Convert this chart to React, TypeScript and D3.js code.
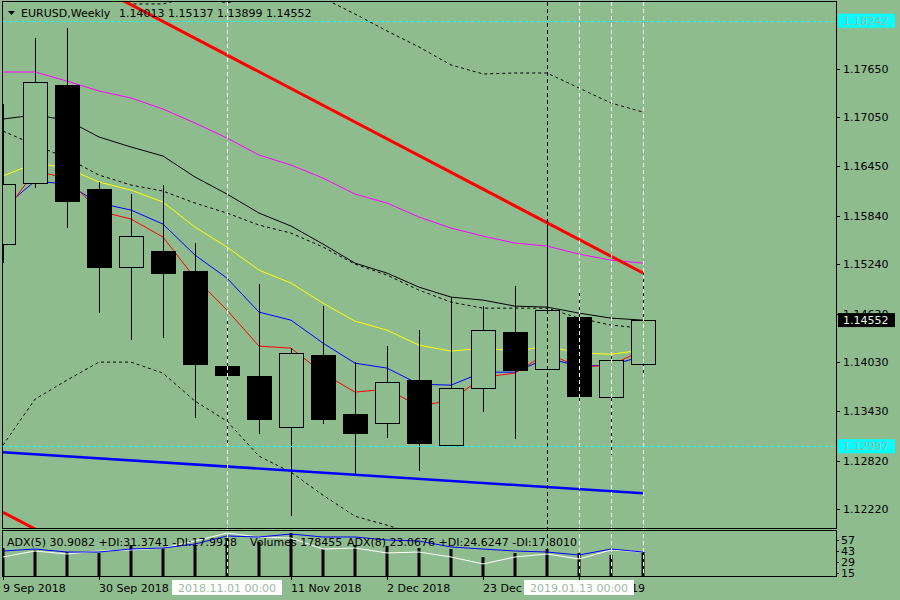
import * as d3 from "d3"

// weekly EURUSD candles, Sep 2018 .. Jan 2019
const opens = [1.15488, 1.16241, 1.17449, 1.16167, 1.15205, 1.15402, 1.15155, 1.13984, 1.13861, 1.13232, 1.1412, 1.13392, 1.13281, 1.13811, 1.1301, 1.13713, 1.14403, 1.13947, 1.14588, 1.13602, 1.14013]
const highs = [1.17215, 1.18029, 1.18152, 1.16253, 1.16105, 1.16216, 1.15501, 1.14588, 1.14996, 1.14206, 1.14724, 1.14033, 1.1423, 1.14427, 1.14835, 1.14724, 1.1497, 1.15747, 1.14884, 1.14157, 1.15137]
const lows = [1.15254, 1.16179, 1.15686, 1.14638, 1.14305, 1.1433, 1.13343, 1.1301, 1.13146, 1.12135, 1.13269, 1.12652, 1.13096, 1.1269, 1.13, 1.13417, 1.13084, 1.1394, 1.13528, 1.12887, 1.13899]
const closes = [1.16228, 1.17486, 1.16019, 1.15205, 1.15587, 1.15131, 1.14009, 1.13873, 1.13331, 1.14144, 1.13331, 1.13158, 1.13786, 1.13034, 1.13713, 1.14428, 1.13935, 1.14675, 1.13614, 1.14058, 1.14552]

// moving averages / envelopes
const maMagenta = [1.17609, 1.17609, 1.17498, 1.17375, 1.17289, 1.17153, 1.1698, 1.16796, 1.16586, 1.16463, 1.16302, 1.16105, 1.15994, 1.15822, 1.15686, 1.15587, 1.15501, 1.15464, 1.15365, 1.15291, 1.15254]
const maBlack = [1.1703, 1.17079, 1.17017, 1.16808, 1.16685, 1.16574, 1.16315, 1.16105, 1.15871, 1.15711, 1.15489, 1.15254, 1.15131, 1.14958, 1.14835, 1.14798, 1.14724, 1.14712, 1.14638, 1.14576, 1.14551]
const maBlackDot = [1.16882, 1.16709, 1.16549, 1.16339, 1.16216, 1.16142, 1.15994, 1.15871, 1.15723, 1.15624, 1.15452, 1.15242, 1.15106, 1.14921, 1.14773, 1.14699, 1.14699, 1.14699, 1.14576, 1.1449, 1.14453]
const maYellow = [1.16327, 1.16487, 1.16426, 1.16253, 1.16154, 1.16006, 1.15698, 1.15452, 1.15168, 1.15008, 1.14761, 1.14539, 1.14428, 1.14243, 1.14169, 1.14206, 1.14169, 1.14231, 1.14145, 1.14132, 1.14182]
const maBlue = [1.15932, 1.16265, 1.16228, 1.15994, 1.15908, 1.15735, 1.15353, 1.15069, 1.1465, 1.14551, 1.14268, 1.14021, 1.1396, 1.13762, 1.1375, 1.1391, 1.1391, 1.14083, 1.13984, 1.13997, 1.14108]
const maRed = [1.15846, 1.16389, 1.16302, 1.15895, 1.15797, 1.15575, 1.15069, 1.14675, 1.14231, 1.14206, 1.13898, 1.13664, 1.13701, 1.13491, 1.13565, 1.13849, 1.13898, 1.14145, 1.13972, 1.13997, 1.14182]
const bandUpper = [1.188, 1.1885, 1.188, 1.187, 1.18448, 1.18448, 1.1855, 1.1846, 1.18558, 1.18595, 1.18521, 1.18324, 1.18115, 1.17918, 1.17696, 1.17585, 1.17597, 1.17597, 1.17412, 1.17227, 1.17116]
const bandLower = [1.1301, 1.13577, 1.13812, 1.14034, 1.14034, 1.13898, 1.13553, 1.13306, 1.12875, 1.12677, 1.12394, 1.12135, 1.12024, 1.11901, 1.1178, 1.1166, 1.116, 1.116, 1.1154, 1.1148, 1.1142]

// sub window
const adxBlue = [43.0, 45.5, 41.7, 41.7, 45.5, 46.8, 51.9, 62.1, 60.8, 64.6, 60.8, 60.8, 57.0, 55.7, 48.1, 45.5, 43.0, 41.7, 37.9, 45.5, 41.7]
const adxWhite = [35.4, 43.0, 39.2, 43.0, 44.3, 46.8, 55.7, 65.9, 60.8, 59.5, 45.5, 46.8, 40.5, 41.7, 35.4, 26.5, 35.4, 39.2, 32.8, 44.3, 41.7]
const volumes = [208200, 193300, 178500, 171000, 230500, 208200, 230500, 282600, 252800, 319700, 200800, 230500, 223100, 208200, 200800, 141300, 171000, 200800, 171000, 156200, 178455]
const subTicks = [57, 43, 29, 15]

// objects (trend lines are extended to the left edge)
const trendRed = [{ bar: 7, price: 1.17819 }, { bar: 20, price: 1.15132 }]
const trendRedLow = [{ bar: 0, price: 1.12184 }, { bar: 13, price: 1.09497 }]
const trendBlue = [{ bar: 0, price: 1.12924 }, { bar: 20, price: 1.12419 }]
const hLevels = [1.18242, 1.12997]
const vLinesWhite = [7, 18, 19, 20]
const vLinesBlack = [17]

const priceTicks = [1.1765, 1.1705, 1.1645, 1.1584, 1.1524, 1.1463, 1.1403, 1.1343, 1.1282, 1.1222]
const dateLabels = [
  { bar: 0, text: "9 Sep 2018" },
  { bar: 3, text: "30 Sep 2018" },
  { bar: 9, text: "11 Nov 2018" },
  { bar: 12, text: "2 Dec 2018" },
  { bar: 15, text: "23 Dec 2018" },
  { bar: 18, text: "13 Jan 2019" },
]
const crossLabels = [
  { bar: 7, text: "2018.11.01 00:00" },
  { bar: 18, text: "2019.01.13 00:00" },
]
const lastPrice = 1.14552

const BG = "#8FBC8F"
const FONT = "DejaVu Sans"

export default function App() {
  const left = 3, right = 836
  const mainTop = 2, mainBottom = 528
  const subTop = 531, subBottom = 576

  const x = d3.scaleLinear().domain([0, 20]).range([3, 643])
  const y = d3.scaleLinear().domain([1.1222, 1.1765]).range([509.3, 68.7])
  const ys = d3.scaleLinear().domain([15, 57]).range([573, 540])
  const yv = d3.scaleLinear().domain([0, 178455]).range([subBottom, 552])

  const line = d3.line<number>().x((_, i) => x(i)).y(d => y(d))
  const subLine = d3.line<number>().x((_, i) => x(i)).y(d => ys(d))
  // straight line through two anchors, drawn from bar `from` to bar `to`
  const seg = (pts: { bar: number; price: number }[], from: number, to: number) => {
    const p = d3.scaleLinear().domain([pts[0].bar, pts[1].bar]).range([pts[0].price, pts[1].price])
    return `M${x(from)},${y(p(from))}L${x(to)},${y(p(to))}`
  }

  const maLines = [
    { data: bandUpper, color: "#000", dash: "3,3" },
    { data: bandLower, color: "#000", dash: "3,3" },
    { data: maMagenta, color: "#FF00FF", dash: null },
    { data: maBlack, color: "#000", dash: null },
    { data: maBlackDot, color: "#000", dash: "3,3" },
    { data: maYellow, color: "#FFFF00", dash: null },
    { data: maBlue, color: "#0000FF", dash: null },
    { data: maRed, color: "#FF0000", dash: null },
  ]

  return (
    <svg width={900} height={600} style={{ position: "fixed", left: 0, top: 0, display: "block" }}
      fontFamily={FONT} fontSize={11}>
      <defs>
        <clipPath id="main"><rect x={left} y={mainTop} width={right - left} height={mainBottom - mainTop} /></clipPath>
        <clipPath id="sub"><rect x={left} y={subTop} width={right - left} height={subBottom - subTop} /></clipPath>
      </defs>
      <rect width={900} height={600} fill={BG} />

      <g clipPath="url(#main)">
        {maLines.map((m, i) => (
          <path key={i} d={line(m.data) ?? ""} fill="none" stroke={m.color} strokeWidth={1}
            strokeDasharray={m.dash ?? undefined} />
        ))}

        {opens.map((o, i) => {
          const c = closes[i]
          const cx = Math.round(x(i)) + 0.5
          const top = Math.round(y(Math.max(o, c))) + 0.5
          const bot = Math.round(y(Math.min(o, c))) + 0.5
          return (
            <g key={i} shapeRendering="crispEdges">
              <line x1={cx} x2={cx} y1={y(highs[i])} y2={y(lows[i])} stroke="#000" />
              <rect x={cx - 12} y={top} width={24} height={Math.max(1, bot - top)}
                fill={c >= o ? BG : "#000"} stroke="#000" />
            </g>
          )
        })}

        {hLevels.map((p, i) => (
          <line key={i} x1={left} x2={right} y1={Math.round(y(p)) + 0.5} y2={Math.round(y(p)) + 0.5}
            stroke="#00FFFF" strokeDasharray="3,3" shapeRendering="crispEdges" />
        ))}

        <path d={seg(trendBlue, 0, 20)} stroke="#0000FF" strokeWidth={2.5} fill="none" />
        <path d={seg(trendRed, 0, 20)} stroke="#FF0000" strokeWidth={3} fill="none" />
        <path d={seg(trendRedLow, 0, 5)} stroke="#FF0000" strokeWidth={3} fill="none" />
      </g>

      <g clipPath="url(#sub)">
        {volumes.map((v, i) => (
          <line key={i} x1={x(i)} x2={x(i)} y1={yv(v)} y2={subBottom} stroke="#000" strokeWidth={3} />
        ))}
        <path d={subLine(adxWhite) ?? ""} fill="none" stroke="#FFFFFF" strokeWidth={1} />
        <path d={subLine(adxBlue) ?? ""} fill="none" stroke="#0000FF" strokeWidth={1} />
        <text x={7} y={546} fill="#000">ADX(5) 30.9082 +DI:31.3741 -DI:17.9928</text>
        <text x={250} y={546} fill="#000">Volumes 178455</text>
        <text x={347} y={546} fill="#000">ADX(8) 23.0676 +DI:24.6247 -DI:17.8010</text>
      </g>

      {/* vertical lines across both windows */}
      {vLinesWhite.map(b => (
        <line key={"w" + b} x1={Math.round(x(b)) + 0.5} x2={Math.round(x(b)) + 0.5} y1={mainTop} y2={subBottom}
          stroke="#FFFFFF" strokeDasharray="4,3" shapeRendering="crispEdges" />
      ))}
      {vLinesBlack.map(b => (
        <line key={"b" + b} x1={Math.round(x(b)) + 0.5} x2={Math.round(x(b)) + 0.5} y1={mainTop} y2={subBottom}
          stroke="#000" strokeDasharray="4,3" shapeRendering="crispEdges" />
      ))}

      {/* frames */}
      <g fill="none" stroke="#000" shapeRendering="crispEdges">
        <rect x={left - 0.5} y={mainTop - 0.5} width={right - left + 1} height={mainBottom - mainTop + 1} />
        <rect x={left - 0.5} y={subTop - 0.5} width={right - left + 1} height={subBottom - subTop + 1} />
      </g>

      {/* header */}
      <path d="M8,11 L15,11 L11.5,15 Z" fill="#000" />
      <text x={21} y={17} fill="#000">EURUSD,Weekly</text>
      <text x={119} y={17} fill="#000">1.14013 1.15137 1.13899 1.14552</text>

      {/* price axis */}
      {priceTicks.map(p => (
        <g key={p}>
          <line x1={right} x2={right + 4} y1={Math.round(y(p)) + 0.5} y2={Math.round(y(p)) + 0.5} stroke="#000" shapeRendering="crispEdges" />
          <text x={843} y={y(p) + 4} fill="#000">{p.toFixed(5)}</text>
        </g>
      ))}
      {hLevels.map(p => (
        <g key={"h" + p}>
          <rect x={838} y={y(p) - 7} width={57} height={14} fill="#00FFFF" />
          <text x={843} y={y(p) + 4} fill="#9FB89F">{p.toFixed(5)}</text>
        </g>
      ))}
      <rect x={838} y={y(lastPrice) - 7} width={57} height={14} fill="#000" />
      <text x={843} y={y(lastPrice) + 4} fill="#E8F4E8">{lastPrice.toFixed(5)}</text>

      {/* sub axis */}
      {subTicks.map(t => (
        <g key={t}>
          <line x1={right} x2={right + 3} y1={Math.round(ys(t)) + 0.5} y2={Math.round(ys(t)) + 0.5} stroke="#000" />
          <text x={841} y={ys(t) + 4} fill="#000">{t}</text>
        </g>
      ))}

      {/* time axis */}
      {dateLabels.map(d => (
        <g key={d.bar}>
          <line x1={Math.round(x(d.bar)) + 0.5} x2={Math.round(x(d.bar)) + 0.5} y1={subBottom} y2={subBottom + 4} stroke="#000" />
          <text x={x(d.bar)} y={592} fill="#000">{d.text}</text>
        </g>
      ))}
      {crossLabels.map(d => (
        <g key={"c" + d.bar}>
          <rect x={x(d.bar) - 55} y={580} width={110} height={15} fill="#FFFFFF" />
          <text x={x(d.bar)} y={592} textAnchor="middle" fill="#9FB89F">{d.text}</text>
        </g>
      ))}
    </svg>
  )
}
